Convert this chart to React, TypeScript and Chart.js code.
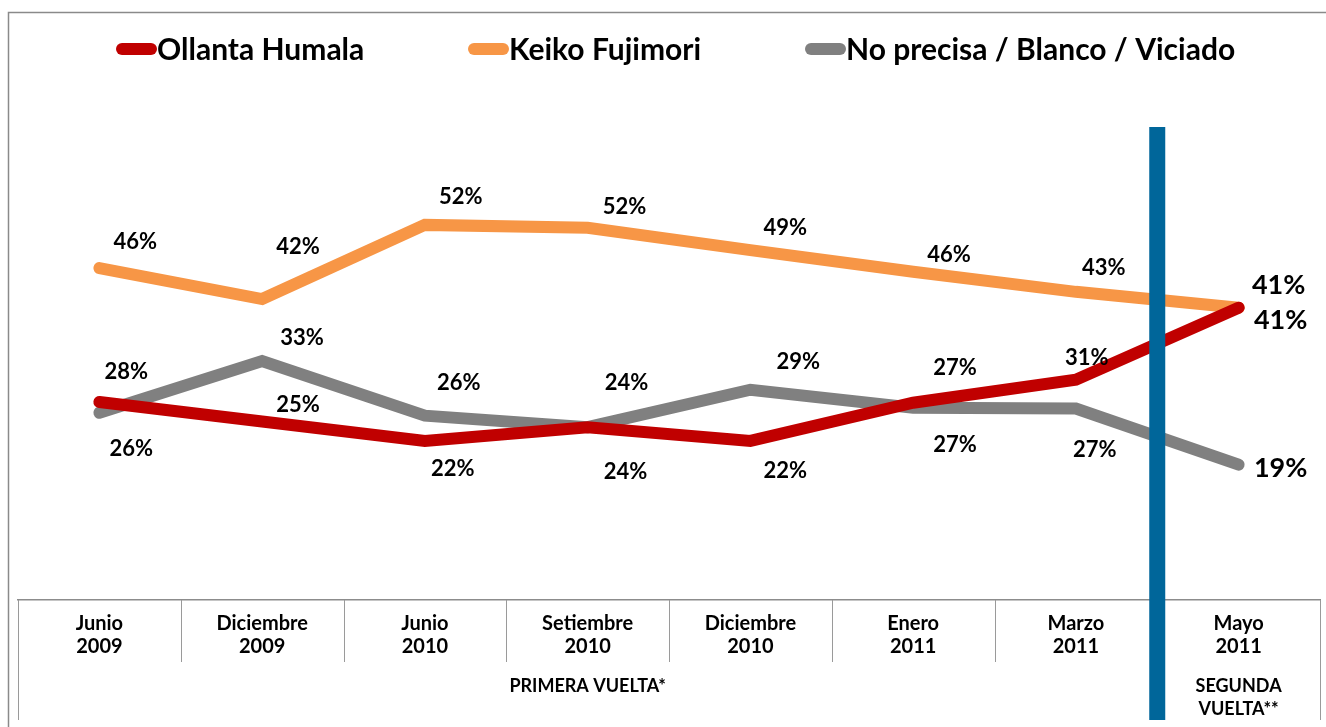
import React, { useEffect, useRef } from "react";
import { Chart, registerables } from "chart.js";

Chart.register(...registerables);

// ---------- data ----------
const categories: string[][] = [
  ["Junio", "2009"],
  ["Diciembre", "2009"],
  ["Junio", "2010"],
  ["Setiembre", "2010"],
  ["Diciembre", "2010"],
  ["Enero", "2011"],
  ["Marzo", "2011"],
  ["Mayo", "2011"],
];
const seriesNames = ["Ollanta Humala", "Keiko Fujimori", "No precisa / Blanco / Viciado"];
const humala = [27.5, 24.8, 22.1, 24.0, 22.1, 27.4, 30.6, 40.6];
const fujimori = [46.1, 41.8, 52.1, 51.7, 48.6, 45.6, 42.8, 40.6];
const blanco = [26.0, 33.2, 25.6, 24.0, 29.2, 26.7, 26.6, 18.8];
const roundLabels = ["PRIMERA VUELTA*", "SEGUNDA", "VUELTA**"];

// ---------- styles ----------
const colors = ["#C00000", "#F79646", "#808080"];
const dividerColor = "#00669A";
const FONT = 'Lato, "Open Sans", sans-serif';

// label offsets (dx, dy) from each point
const humalaOffsets = [[27, -30], [36, -17], [28, 28], [38, 45], [35, 30], [42, -35], [11, -22], [42, 13]];
const fujimoriOffsets = [[36, -26], [36, -52], [36, -28], [37, -21], [35, -22], [36, -17], [28, -24], [40, -22]];
const blancoOffsets = [[32, 36], [40, -23], [34, -33], [39, -44], [48, -28], [42, 37], [19, 41], [42, 4]];
const allOffsets = [humalaOffsets, fujimoriOffsets, blancoOffsets];

const legendStarts = [116, 468, 805];

const framePlugin = {
  id: "frame",
  beforeDraw(chart: any) {
    const ctx = chart.ctx;
    ctx.save();
    ctx.fillStyle = "#ffffff";
    ctx.fillRect(0, 0, chart.width, chart.height);
    ctx.strokeStyle = "#8a8a8a";
    ctx.lineWidth = 1.5;
    ctx.strokeRect(8.5, 12.5, chart.width + 20, chart.height + 20);
    ctx.restore();
  },
};

const tablePlugin = {
  id: "table",
  afterDraw(chart: any) {
    const ctx = chart.ctx;
    const xs = chart.scales.x;
    const top = chart.chartArea.bottom;
    const n = categories.length;
    ctx.save();
    ctx.strokeStyle = "#9a9a9a";
    ctx.lineWidth = 1;
    for (let i = 0; i <= n; i++) {
      const x = Math.round(xs.getPixelForValue(i - 0.5)) + 0.5;
      const bottom = i === 0 || i === n ? 720 : top + 62;
      ctx.beginPath();
      ctx.moveTo(x, top);
      ctx.lineTo(x, bottom);
      ctx.stroke();
    }
    // round labels
    ctx.fillStyle = "#000";
    ctx.font = `bold 18px ${FONT}`;
    ctx.textAlign = "center";
    ctx.textBaseline = "middle";
    const xa = xs.getPixelForValue(-0.5);
    const xb = xs.getPixelForValue(n - 1.5);
    ctx.fillText(roundLabels[0], (xa + xb) / 2, 686);
    const xl = xs.getPixelForValue(n - 1);
    ctx.fillText(roundLabels[1], xl, 686);
    ctx.fillText(roundLabels[2], xl, 709);
    // blue divider between first and second round
    ctx.fillStyle = dividerColor;
    const xd = xs.getPixelForValue(n - 1.5);
    ctx.fillRect(xd - 8, 127, 16, 593);
    ctx.restore();
  },
};

const labelsPlugin = {
  id: "pointLabels",
  afterDatasetsDraw(chart: any) {
    const ctx = chart.ctx;
    ctx.save();
    ctx.fillStyle = "#000";
    ctx.textAlign = "center";
    ctx.textBaseline = "middle";
    chart.data.datasets.forEach((ds: any, di: number) => {
      const meta = chart.getDatasetMeta(di);
      meta.data.forEach((pt: any, i: number) => {
        const last = i === ds.data.length - 1;
        ctx.font = `bold ${last ? 27 : 22}px ${FONT}`;
        const [dx, dy] = allOffsets[di][i];
        ctx.fillText(Math.round(ds.data[i]) + "%", pt.x + dx, pt.y + dy);
      });
    });
    ctx.restore();
  },
};

const legendPlugin = {
  id: "customLegend",
  afterDraw(chart: any) {
    const ctx = chart.ctx;
    ctx.save();
    ctx.lineCap = "round";
    ctx.lineWidth = 12;
    ctx.font = `bold 30px ${FONT}`;
    ctx.textBaseline = "alphabetic";
    ctx.textAlign = "left";
    seriesNames.forEach((name, i) => {
      const x0 = legendStarts[i];
      ctx.strokeStyle = colors[i];
      ctx.beginPath();
      ctx.moveTo(x0 + 6, 49);
      ctx.lineTo(x0 + 35, 49);
      ctx.stroke();
      ctx.fillStyle = "#000";
      ctx.fillText(name, x0 + 41, 59.5);
    });
    ctx.restore();
  },
};

export default function App() {
  const ref = useRef<HTMLCanvasElement | null>(null);
  useEffect(() => {
    if (!ref.current) return;
    const seriesData = [humala, fujimori, blanco];
    const chart = new Chart(ref.current, {
      type: "line",
      data: {
        labels: categories,
        datasets: seriesData.map((d, i) => ({
          label: seriesNames[i],
          data: d,
          borderColor: colors[i],
          backgroundColor: colors[i],
          borderWidth: 12,
          borderCapStyle: "round",
          borderJoinStyle: "miter",
          pointRadius: 0,
          tension: 0,
          fill: false,
        })),
      },
      options: {
        responsive: false,
        animation: false,
        layout: { padding: { left: 18, right: 6, top: 96, bottom: 0 } },
        plugins: {
          legend: { display: false },
          tooltip: { enabled: false },
        },
        scales: {
          x: {
            type: "category",
            offset: true,
            grid: { display: false, drawTicks: false },
            border: { display: true, color: "#8c8c8c", width: 1.5 },
            ticks: {
              autoSkip: false,
              maxRotation: 0,
              padding: 12,
              color: "#000",
              font: { family: FONT, size: 20, weight: "bold", lineHeight: "23px" } as any,
            },
            afterFit: (s: any) => {
              s.height = 127;
            },
          },
          y: { display: false, min: 0, max: 70 },
        },
      } as any,
      plugins: [framePlugin, tablePlugin, labelsPlugin, legendPlugin],
    });
    return () => chart.destroy();
  }, []);
  return (
    <div style={{ position: "fixed", left: 0, top: 0, width: 1326, height: 727, background: "#fff" }}>
      <canvas ref={ref} width={1326} height={727} style={{ display: "block" }} />
    </div>
  );
}
